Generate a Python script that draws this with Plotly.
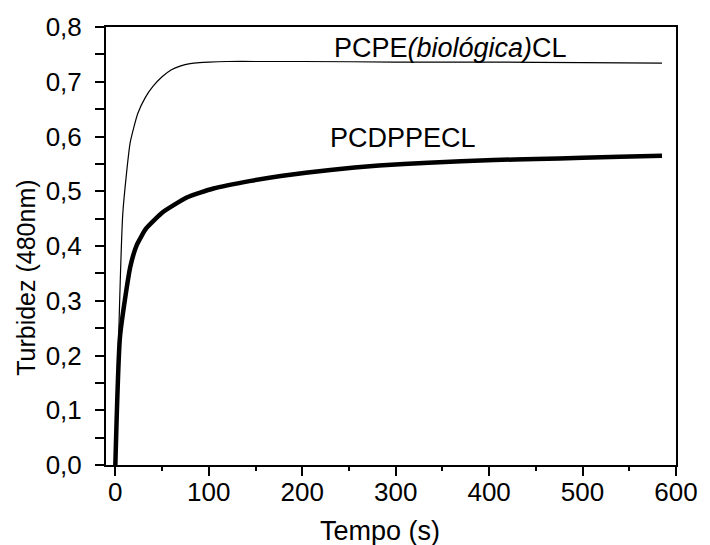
import plotly.graph_objects as go

# Turbidity (480 nm) against time for the two preparations
tempo_biologica = [0, 8, 16, 24, 32, 40, 50, 60, 70, 80, 90, 100, 120, 150,
                   200, 300, 400, 500, 585]
turbidez_biologica = [0, 0.46, 0.59, 0.642, 0.671, 0.691, 0.709, 0.722, 0.729,
                      0.733, 0.735, 0.736, 0.737, 0.737, 0.737, 0.736, 0.736,
                      0.735, 0.734]

tempo_dppe = [0, 5, 16, 23, 33, 51, 77, 105, 145, 177, 230, 282, 335, 405,
              450, 500, 540, 585]
turbidez_dppe = [0, 0.235, 0.362, 0.402, 0.432, 0.462, 0.489, 0.505, 0.519,
                 0.528, 0.539, 0.547, 0.552, 0.557, 0.559, 0.561, 0.563,
                 0.565]

x_ticks = [0, 100, 200, 300, 400, 500, 600]
y_ticks = [0.0, 0.1, 0.2, 0.3, 0.4, 0.5, 0.6, 0.7, 0.8]

FONT = "Liberation Sans, Arial, sans-serif"

fig = go.Figure()
fig.add_trace(go.Scatter(x=tempo_biologica, y=turbidez_biologica, mode="lines",
                         line=dict(color="black", width=1.2, shape="spline",
                                   smoothing=0.5),
                         name="PCPE(biológica)CL"))
fig.add_trace(go.Scatter(x=tempo_dppe, y=turbidez_dppe, mode="lines",
                         line=dict(color="black", width=4.5, shape="spline",
                                   smoothing=0.5),
                         name="PCDPPECL"))

axis_common = dict(showgrid=False, zeroline=False, showline=True,
                   linecolor="black", linewidth=2, mirror=True,
                   ticks="outside", tickcolor="black", tickwidth=2,
                   tickfont=dict(family=FONT, size=26, color="black"))

fig.update_xaxes(range=[-10, 600], tickvals=x_ticks, ticklen=9,
                 ticklabelstandoff=-6,
                 minor=dict(dtick=50, ticks="outside", ticklen=4,
                            tickwidth=2, tickcolor="black"),
                 **axis_common)
fig.update_yaxes(range=[0, 0.8], tickvals=y_ticks, tickformat=".1f",
                 ticklen=9, ticklabelstandoff=8,
                 minor=dict(dtick=0.05, ticks="outside", ticklen=9,
                            tickwidth=2, tickcolor="black"),
                 **axis_common)

fig.add_annotation(text="PCPE<i>(biológica)</i>CL", x=456, y=45,
                   xref="paper", yref="paper", showarrow=False,
                   font=dict(family=FONT, size=27, color="black"))
fig.add_annotation(text="PCDPPECL", x=408, y=135,
                   xref="paper", yref="paper", showarrow=False,
                   font=dict(family=FONT, size=27, color="black"))
fig.add_annotation(text="Tempo (s)", x=384.5, y=532,
                   xref="paper", yref="paper", showarrow=False,
                   font=dict(family=FONT, size=27, color="black"))
fig.add_annotation(text="Turbidez (480nm)", x=25, y=276, textangle=-90,
                   xref="paper", yref="paper", showarrow=False,
                   font=dict(family=FONT, size=25, color="black"))

# Convert pixel positions of the text labels to paper coordinates
L, R, T, B = 106, 24.5, 23.5, 80
W, H = 710, 545
pw, ph = W - L - R, H - T - B
for a in fig.layout.annotations:
    a.x = (a.x - L) / pw
    a.y = 1 - (a.y - T) / ph
    a.xanchor = "center"
    a.yanchor = "middle"

fig.update_layout(width=W, height=H, separators=",.",
                  margin=dict(l=L, r=R, t=T, b=B, pad=0),
                  plot_bgcolor="white", paper_bgcolor="white",
                  showlegend=False,
                  font=dict(family=FONT, color="black"))

fig.write_html("out.html")
